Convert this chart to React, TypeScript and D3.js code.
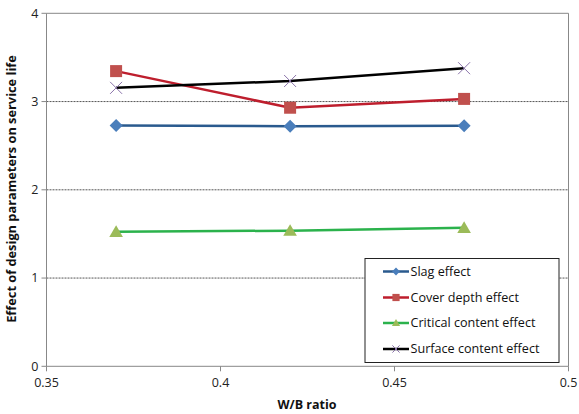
import React from "react";
import * as d3 from "d3";

const wbRatio = [0.37, 0.42, 0.47];
const slagEffect = [2.73, 2.72, 2.725];
const coverDepthEffect = [3.345, 2.93, 3.03];
const criticalContentEffect = [1.525, 1.537, 1.57];
const surfaceContentEffect = [3.155, 3.233, 3.378];
const xTicks = [0.35, 0.4, 0.45, 0.5];
const yTicks = [0, 1, 2, 3, 4];
const seriesNames = ["Slag effect", "Cover depth effect", "Critical content effect", "Surface content effect"];

const W = 579, H = 414;
const M = { left: 46.5, right: 568.5, top: 13.3, bottom: 366.3 };

const styles = [
  { line: "#2A5A8E", fill: "#4A7EBB", marker: "diamond" },
  { line: "#BE1E2D", fill: "#C0504D", marker: "square" },
  { line: "#2BB24C", fill: "#9BBB59", marker: "triangle" },
  { line: "#000000", fill: "#8B74AA", marker: "x" },
];

function Marker({ type, x, y, fill, s = 1 }: { type: string; x: number; y: number; fill: string; s?: number }) {
  if (type === "diamond") {
    const r = 6.5 * s;
    return <path d={`M${x},${y - r}L${x + r},${y}L${x},${y + r}L${x - r},${y}Z`} fill={fill} />;
  }
  if (type === "square") {
    const r = 6 * s;
    return <rect x={x - r} y={y - r} width={2 * r} height={2 * r} fill={fill} />;
  }
  if (type === "triangle") {
    const r = 6.5 * s;
    return <path d={`M${x},${y - r}L${x + r * 1.05},${y + r * 0.8}L${x - r * 1.05},${y + r * 0.8}Z`} fill={fill} />;
  }
  const r = 6 * s;
  return (
    <path d={`M${x - r},${y - r}L${x + r},${y + r}M${x - r},${y + r}L${x + r},${y - r}`} stroke={fill} strokeWidth={1} fill="none" />
  );
}

export default function App() {
  const x = d3.scaleLinear().domain([0.35, 0.5]).range([M.left, M.right]);
  const y = d3.scaleLinear().domain([0, 4]).range([M.bottom, M.top]);
  const all = [slagEffect, coverDepthEffect, criticalContentEffect, surfaceContentEffect];
  const line = d3.line<number>().x((_, i) => x(wbRatio[i])).y((d) => y(d));
  const font = "'Open Sans', 'Noto Sans', sans-serif";

  const lg = { x: 365, y: 258.5, w: 194, h: 104 };
  const rowY = [271.5, 297.5, 323, 349];

  return (
    <svg width={W} height={H} style={{ position: "absolute", left: 0, top: 0 }} fontFamily={font}>
      <rect width={W} height={H} fill="#fff" />
      {yTicks.filter((t) => t > 0 && t < 4).map((t) => (
        <line key={t} x1={M.left} x2={M.right} y1={y(t)} y2={y(t)} stroke="#555" strokeWidth={1} strokeDasharray="2,1" />
      ))}
      <line x1={M.left} x2={M.right} y1={M.top} y2={M.top} stroke="#888" />
      <line x1={M.right} x2={M.right} y1={M.top} y2={M.bottom} stroke="#888" />
      <line x1={M.left} x2={M.left} y1={M.top} y2={M.bottom} stroke="#888" />
      <line x1={M.left} x2={M.right} y1={M.bottom} y2={M.bottom} stroke="#888" />
      {yTicks.map((t) => (
        <g key={t}>
          <line x1={M.left - 5} x2={M.left} y1={y(t)} y2={y(t)} stroke="#888" />
          <text x={M.left - 8} y={y(t)} dy="0.35em" textAnchor="end" fontSize={12.5} fill="#222">{t}</text>
        </g>
      ))}
      {xTicks.map((t) => (
        <g key={t}>
          <line x1={x(t)} x2={x(t)} y1={M.bottom} y2={M.bottom + 5} stroke="#888" />
          <text x={x(t)} y={M.bottom + 21} textAnchor="middle" fontSize={12.5} fill="#222">{String(t)}</text>
        </g>
      ))}
      <text x={307} y={409} textAnchor="middle" fontSize={12.5} fontWeight="bold" fill="#111">W/B ratio</text>
      <text transform={`translate(16,189) rotate(-90)`} textAnchor="middle" fontSize={12.8} fontWeight="bold" fill="#111">
        Effect of design parameters on service life
      </text>
      {all.map((vals, si) => (
        <g key={si}>
          <path d={line(vals) || ""} fill="none" stroke={styles[si].line} strokeWidth={2.5} />
          {vals.map((v, i) => (
            <Marker key={i} type={styles[si].marker} x={x(wbRatio[i])} y={y(v)} fill={styles[si].fill} />
          ))}
        </g>
      ))}
      <rect x={lg.x} y={lg.y} width={lg.w} height={lg.h} fill="#fff" stroke="#222" strokeWidth={1} />
      {seriesNames.map((n, i) => (
        <g key={n}>
          <line x1={383} x2={409} y1={rowY[i]} y2={rowY[i]} stroke={styles[i].line} strokeWidth={2.5} />
          <Marker type={styles[i].marker} x={396} y={rowY[i]} fill={styles[i].fill} s={0.6} />
          <text x={410.5} y={rowY[i]} dy="0.35em" fontSize={12.6} fill="#111">{n}</text>
        </g>
      ))}
    </svg>
  );
}
